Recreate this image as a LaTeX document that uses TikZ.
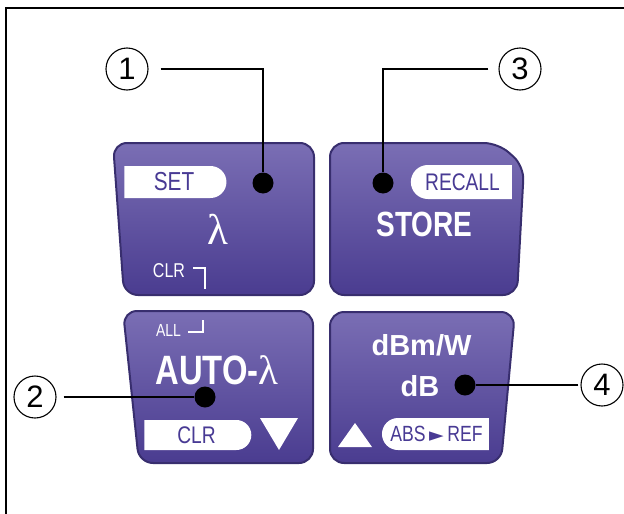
\documentclass[tikz,border=0pt]{standalone}
\usepackage{fontspec}
\setmainfont{Liberation Sans}
\newfontfamily\condfont[FakeStretch=0.8]{Liberation Sans}
\newfontfamily\lamfont{Liberation Serif}
\newfontfamily\symfont{DejaVu Sans}
\usetikzlibrary{shapes.misc}

\definecolor{keytop}{RGB}{122,110,180}
\definecolor{keybot}{RGB}{74,60,144}
\definecolor{keyedge}{RGB}{56,46,110}
\definecolor{tagtext}{RGB}{72,58,148}

\newcommand{\fsz}[1]{\fontsize{#1}{#1}\selectfont}

\tikzset{
    keypad/.style = {draw=keyedge, line width=2pt, rounded corners=14pt,
                     top color=keytop, bottom color=keybot},
    tag/.style = {rounded rectangle, fill=white, text=tagtext,
                  inner sep=0pt, minimum height=32pt},
    keylabel/.style = {text=white, inner sep=0pt},
    dot/.style = {circle, fill=black, minimum size=21pt, inner sep=0pt},
    callout/.style = {circle, draw, line width=1.1pt, minimum size=42pt,
                      inner sep=0pt, font=\fsz{31}},
    lead/.style = {line width=2pt}
}

\begin{document}
\begin{tikzpicture}[x=1pt, y=-1pt]
    \useasboundingbox (0,0) rectangle (624,514);
    \draw [line width=2.4pt] (6,514) -- (6,8) -- (624,8);

    % the four keys
    \draw [keypad] (113,143) -- (314,143) -- (314,295) -- (124,295) -- cycle;
    \draw [keypad] (330,143) -- (498,143) -- (524,166) -- (517,295) -- (330,295) -- cycle;
    \draw [keypad] (123,311) -- (313,311) -- (313,463) -- (139,463) -- cycle;
    \draw [keypad] (330,312) -- (515,312) -- (501,463) -- (330,463) -- cycle;

    % key 1
    \node [tag, rounded rectangle left arc=none, minimum width=102pt,
           font=\condfont\fsz{26}] (set) at (174,182) {SET};
    \node [keylabel, font=\lamfont\fsz{43}] (lam) at (218,229) {λ};
    \node [keylabel, font=\condfont\fsz{20}] (clrA) at (169,270.5) {CLR};
    \draw [white, line width=1.4pt] (193,268) -- (205,268) -- (205,289);

    % key 3
    \node [tag, rounded rectangle right arc=none, minimum width=101pt, minimum height=34pt,
           font=\condfont\fsz{24}] (recall) at (462.5,182) {RECALL};
    \node [keylabel, font=\condfont\bfseries\fsz{35}] (store) at (424.5,224.5) {STORE};

    % key 2
    \node [keylabel, font=\condfont\fsz{17.5}] (all) at (168.5,330) {ALL};
    \draw [white, line width=1.4pt] (188,332) -- (203,332) -- (203,320);
    \node [keylabel, font=\condfont\bfseries\fsz{41}] (auto) at (217,370)
          {AUTO-{\lamfont\mdseries λ}};
    \node [tag, rounded rectangle left arc=none, minimum width=107pt, minimum height=30pt,
           font=\condfont\fsz{24}] (clrB) at (196.5,435) {CLR};
    \fill [white] (260,418) -- (298,418) -- (279,450) -- cycle;

    % key 4
    \node [keylabel, font=\bfseries\fsz{29}] (unit) at (421.5,345) {dBm/W};
    \node [keylabel, font=\bfseries\fsz{29}] (db) at (420,386) {dB};
    \fill [white] (338,447) -- (372,447) -- (355,423) -- cycle;
    \node [tag, rounded rectangle right arc=none, minimum width=107pt,
           font=\condfont\fsz{22}] (absref) at (436.5,434)
          {ABS\,{\symfont\fsz{19}►}\,REF};

    % callouts
    \node [callout] (n1) at (127,69) {1};
    \node [callout] (n2) at (35,397) {2};
    \node [callout] (n3) at (520,69) {3};
    \node [callout] (n4) at (602,385) {4};

    \node [dot] (d1) at (263,183) {};
    \node [dot] (d2) at (205,397) {};
    \node [dot] (d3) at (383,183) {};
    \node [dot] (d4) at (465,385) {};

    \draw [lead, shorten <=12pt] (n1.east) -- (n1.east -| d1) -- (d1);
    \draw [lead, shorten <=10pt] (n3.west) -- (n3.west -| d3) -- (d3);
    \draw [lead, shorten <=7pt] (n2.east) -- (d2);
    \draw [lead, shorten <=2pt] (n4.west) -- (d4);
\end{tikzpicture}
\end{document}
